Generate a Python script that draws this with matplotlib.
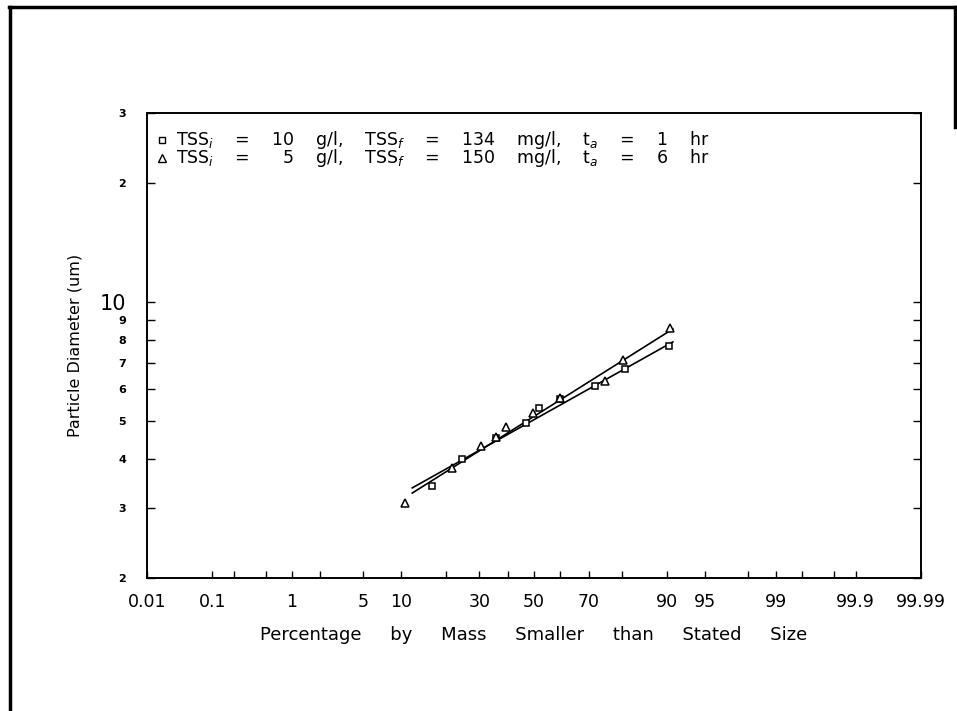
import statistics
import numpy as np
import matplotlib
matplotlib.use('Agg')
import matplotlib.pyplot as plt
import matplotlib.transforms as mtransforms
from matplotlib.lines import Line2D

# values: percent finer by mass vs particle diameter (um)
tri_pct = [10.7, 21.5, 30.5, 35.8, 39.4, 49.6, 59.9, 75.2, 80.4, 90.4]
tri_um = [3.10, 3.79, 4.31, 4.55, 4.82, 5.23, 5.71, 6.30, 7.12, 8.58]
sq_pct = [16.4, 24.4, 35.8, 46.9, 51.9, 59.9, 72.1, 80.9, 90.3]
sq_um = [3.42, 4.00, 4.52, 4.93, 5.38, 5.67, 6.12, 6.76, 7.72]

# end points of the two fitted lines
fit_pct = [12.1, 90.9]
tri_fit_um = [3.28, 8.53]
sq_fit_um = [3.38, 7.91]

x_ticks = [0.01, 0.1, 0.2, 0.5, 1, 2, 5, 10, 20, 30, 40, 50, 60, 70, 80,
           90, 95, 98, 99, 99.5, 99.8, 99.9, 99.99]
x_labels = ['0.01', '0.1', '', '', '1', '', '5', '10', '', '30', '', '50', '',
            '70', '', '90', '95', '', '99', '', '', '99.9', '99.99']
y_ticks = [2, 3, 4, 5, 6, 7, 8, 9, 10, 20, 30]
y_labels = ['2', '3', '4', '5', '6', '7', '8', '9', '10', '2', '3']

gap = '    '
legend_sq = gap.join(['TSS$_i$', '=', '10', 'g/l,', 'TSS$_f$', '=', '134', 'mg/l,',
                      't$_a$', '=', '1', 'hr'])
legend_tri = gap.join(['TSS$_i$', '=', '  5', 'g/l,', 'TSS$_f$', '=', '150', 'mg/l,',
                       't$_a$', '=', '6', 'hr'])
x_title = '     '.join(['Percentage', 'by', 'Mass', 'Smaller', 'than', 'Stated', 'Size'])

# probability (normal quantile) scale for the x axis
nd = statistics.NormalDist()


def _ppf(v):
    try:
        return nd.inv_cdf(min(max(v, 1e-7), 100 - 1e-7) / 100.0)
    except Exception:
        return np.nan


def prob_forward(p):
    return np.vectorize(_ppf, otypes=[float])(np.asarray(p, dtype=float))


def prob_inverse(z):
    return np.vectorize(lambda v: nd.cdf(v) * 100.0, otypes=[float])(np.asarray(z, dtype=float))


W, H = 957, 711
fig = plt.figure(figsize=(W / 100, H / 100), dpi=100)
ax = fig.add_axes([147 / W, 1 - 578 / H, (921 - 147) / W, (578 - 113) / H])

ax.set_xscale('function', functions=(prob_forward, prob_inverse))
ax.set_yscale('log')
ax.set_xlim(0.01, 99.99)
ax.set_ylim(2, 30)

ax.plot(fit_pct, tri_fit_um, color='black', lw=1.2)
ax.plot(fit_pct, sq_fit_um, color='black', lw=1.2)
ax.plot(sq_pct, sq_um, ls='none', marker='s', ms=5, mfc='white', mec='black', mew=1.1)
ax.plot(tri_pct, tri_um, ls='none', marker='^', ms=5.5, mfc='white', mec='black', mew=1.1)

ax.set_xticks(x_ticks)
ax.set_xticklabels(x_labels, fontsize=12.5)
ax.xaxis.set_minor_locator(matplotlib.ticker.NullLocator())
ax.set_yticks(y_ticks)
ax.set_yticklabels(y_labels, fontsize=8, fontweight='bold')
ax.yaxis.set_minor_locator(matplotlib.ticker.NullLocator())
for lab in ax.get_yticklabels():
    if lab.get_text() == '10':
        lab.set_fontsize(15)
        lab.set_fontweight('normal')
        lab.set_transform(lab.get_transform() +
                          mtransforms.ScaledTranslation(-4 / 72, 3 / 72, fig.dpi_scale_trans))

ax.tick_params(axis='x', direction='in', length=5, width=1, pad=11)
ax.tick_params(axis='y', direction='in', length=6, width=1, pad=15, right=True)
for s in ax.spines.values():
    s.set_linewidth(1.4)

# legend block: marker symbols plus two text lines, like the original
ax.plot([0.020], [0.942], transform=ax.transAxes, marker='s', ms=5, mfc='white',
        mec='black', mew=1.0, ls='none', clip_on=False)
ax.plot([0.020], [0.903], transform=ax.transAxes, marker='^', ms=5.5, mfc='white',
        mec='black', mew=1.0, ls='none', clip_on=False)
ax.text(0.038, 0.966, legend_sq + '\n' + legend_tri, transform=ax.transAxes,
        fontsize=12.5, va='top', ha='left', linespacing=0.78)

fig.text(75 / W, 1 - 345 / H, 'Particle Diameter (um)', rotation=90, fontsize=11.5,
         ha='center', va='center')
fig.text(534 / W, 1 - 635 / H, x_title, fontsize=13, ha='center', va='center')

# scanned page frame
fig.add_artist(Line2D([10 / W, 10 / W], [0, 1 - 7 / H], transform=fig.transFigure,
                      color='black', lw=2.5))
fig.add_artist(Line2D([9 / W, 955 / W], [1 - 7 / H, 1 - 7 / H], transform=fig.transFigure,
                      color='black', lw=2.5))
fig.add_artist(Line2D([955 / W, 955 / W], [1 - 7 / H, 1 - 127 / H], transform=fig.transFigure,
                      color='black', lw=2.5))

fig.savefig('out.png', dpi=100)
